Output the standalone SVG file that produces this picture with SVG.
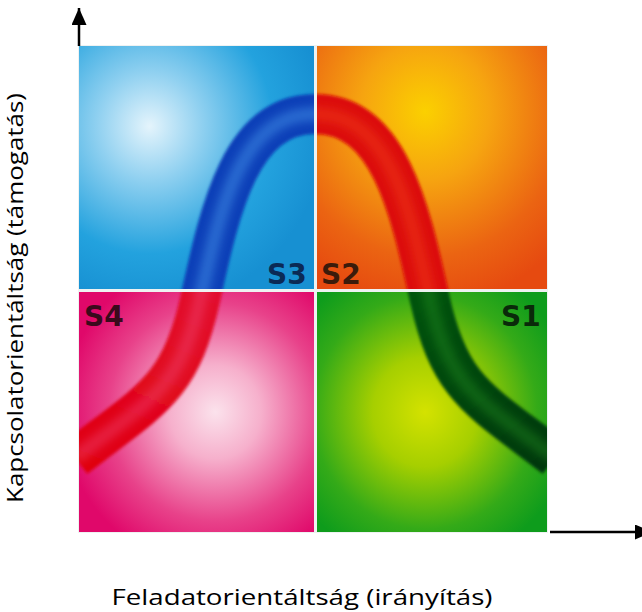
<svg xmlns="http://www.w3.org/2000/svg" width="642" height="612" viewBox="0 0 642 612">
<style>
.lbl{font-family:"DejaVu Sans","Liberation Sans",sans-serif;font-weight:bold;font-size:28px}
.axis-t{font-family:"Open Sans","Noto Sans","Liberation Sans",sans-serif;font-size:22px;fill:#000}
.axis{stroke:#000;stroke-width:2.5;fill:none}
.band{fill:none;stroke-width:40;stroke-linecap:butt}
.hl{fill:none;stroke-width:14;stroke-linecap:butt}
</style>
<defs>
<radialGradient id="gTL" cx="0.3" cy="0.33" r="0.75">
<stop offset="0" stop-color="#e4f4fc"/><stop offset="0.3" stop-color="#8fd0f0"/><stop offset="0.7" stop-color="#23a2de"/><stop offset="1" stop-color="#1790d2"/>
</radialGradient>
<radialGradient id="gTR" cx="0.47" cy="0.27" r="0.8">
<stop offset="0" stop-color="#fbd000"/><stop offset="0.35" stop-color="#f6a410"/><stop offset="0.75" stop-color="#eb6412"/><stop offset="1" stop-color="#e64a10"/>
</radialGradient>
<radialGradient id="gBL" cx="0.58" cy="0.5" r="0.65">
<stop offset="0" stop-color="#fbe2ec"/><stop offset="0.3" stop-color="#f6b0cc"/><stop offset="0.7" stop-color="#e8428a"/><stop offset="1" stop-color="#e0086a"/>
</radialGradient>
<radialGradient id="gBR" cx="0.47" cy="0.5" r="0.65">
<stop offset="0" stop-color="#d4e200"/><stop offset="0.35" stop-color="#a6cf00"/><stop offset="0.75" stop-color="#34aa18"/><stop offset="1" stop-color="#0e9c1c"/>
</radialGradient>
<linearGradient id="bBL" x1="0" y1="1" x2="0.6" y2="0">
<stop offset="0" stop-color="#e00010"/><stop offset="1" stop-color="#e4204e"/>
</linearGradient>
<linearGradient id="bBR" x1="0" y1="0" x2="1" y2="1">
<stop offset="0" stop-color="#0a8014"/><stop offset="1" stop-color="#003808"/>
</linearGradient>
<clipPath id="cTL"><rect x="79" y="46" width="235" height="243"/></clipPath>
<clipPath id="cTR"><rect x="317" y="46" width="230" height="243"/></clipPath>
<clipPath id="cBL"><rect x="79" y="292" width="235" height="240"/></clipPath>
<clipPath id="cBR"><rect x="317" y="292" width="230" height="240"/></clipPath>
<filter id="soft" x="-10%" y="-10%" width="120%" height="120%"><feGaussianBlur stdDeviation="1.5"/></filter>
<filter id="soft2" x="-10%" y="-10%" width="120%" height="120%"><feGaussianBlur stdDeviation="4"/></filter>
<path id="curve" d="M 75,458 C 150,400 180,390 200,300 C 220,210 240,114 315,114 C 390,114 410,210 430,300 C 450,390 480,400 555,458"/>
<marker id="ah" viewBox="0 0 17 15" refX="17" refY="7.5" markerWidth="17" markerHeight="15" markerUnits="userSpaceOnUse" orient="auto"><path d="M0,0 L17,7.5 L0,15 z" fill="#000"/></marker>
</defs>
<rect x="0" y="0" width="642" height="612" fill="#fff"/>
<rect x="78" y="45" width="470" height="488" fill="#eef2f2"/>

<g id="q-tl">
<rect x="79" y="46" width="235" height="243" fill="url(#gTL)"/>
<g clip-path="url(#cTL)">
<use href="#curve" class="band" stroke="#0b40b8" filter="url(#soft)"/>
<use href="#curve" class="hl" stroke="#3a84e0" opacity="0.6" filter="url(#soft2)"/>
</g>
<text class="lbl" x="267" y="284" fill="#0b2a55">S3</text>
</g>

<g id="q-tr">
<rect x="317" y="46" width="230" height="243" fill="url(#gTR)"/>
<g clip-path="url(#cTR)">
<use href="#curve" class="band" stroke="#dc0a0a" filter="url(#soft)"/>
<use href="#curve" class="hl" stroke="#f03a18" opacity="0.5" filter="url(#soft2)"/>
</g>
<text class="lbl" x="321" y="284" fill="#3b1b0b">S2</text>
</g>

<g id="q-bl">
<rect x="79" y="292" width="235" height="240" fill="url(#gBL)"/>
<g clip-path="url(#cBL)">
<use href="#curve" class="band" stroke="url(#bBL)" filter="url(#soft)"/>
<use href="#curve" class="hl" stroke="#f04a78" opacity="0.4" filter="url(#soft2)"/>
</g>
<text class="lbl" x="84" y="326" fill="#3a0a1c">S4</text>
</g>

<g id="q-br">
<rect x="317" y="292" width="230" height="240" fill="url(#gBR)"/>
<g clip-path="url(#cBR)">
<use href="#curve" class="band" stroke="url(#bBR)" filter="url(#soft)"/>
<use href="#curve" class="hl" stroke="#2a9a20" opacity="0.35" filter="url(#soft2)"/>
</g>
<text class="lbl" x="501" y="326" fill="#0a2a0a">S1</text>
</g>

<g id="connectors">
<line class="axis" x1="79" y1="46" x2="79" y2="8" marker-end="url(#ah)"/>
<line class="axis" x1="550" y1="532" x2="652" y2="532" marker-end="url(#ah)"/>
</g>

<g id="labels">
<text class="axis-t" x="302" y="605" text-anchor="middle" textLength="381" lengthAdjust="spacingAndGlyphs">Feladatorientáltság (irányítás)</text>
<text class="axis-t" transform="translate(23,298) rotate(-90)" text-anchor="middle" textLength="410" lengthAdjust="spacingAndGlyphs">Kapcsolatorientáltság (támogatás)</text>
</g>
</svg>
